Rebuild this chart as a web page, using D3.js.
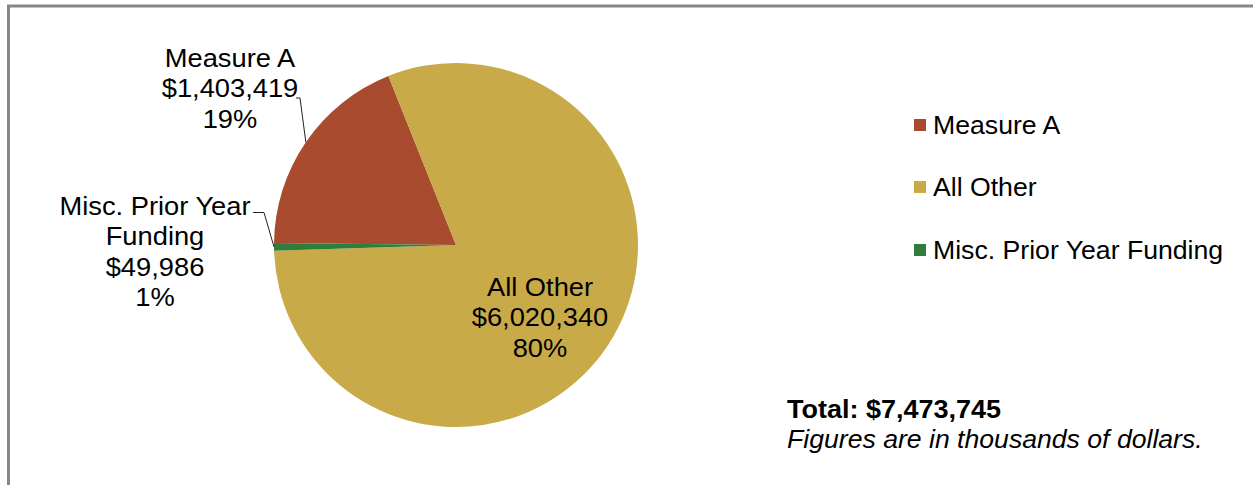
<!DOCTYPE html>
<html>
<head>
<meta charset="utf-8">
<script src="https://cdn.jsdelivr.net/npm/d3@7"></script>
<style>
  html, body { margin: 0; padding: 0; background: #fff; }
  svg { display: block; }
  text { font-family: "Liberation Sans", Arial, sans-serif; fill: #000; }
</style>
</head>
<body>
<svg id="chart" width="1253" height="485"></svg>
<script>
// Funding sources (thousands of dollars)
const categories = ["Measure A", "All Other", "Misc. Prior Year Funding"];
const values = [1403419, 6020340, 49986];
const percentLabels = ["19%", "80%", "1%"];
const colors = ["#A84B2F", "#C8AA48", "#2E7D3D"];
const totalLabel = "Total: $7,473,745";
const noteLabel = "Figures are in thousands of dollars.";

const svg = d3.select("#chart");
const W = 1253, H = 485;

// Frame around the chart area
svg.append("path")
  .attr("d", `M8.5,${H} L8.5,6 L${W},6`)
  .attr("fill", "none")
  .attr("stroke", "#878787")
  .attr("stroke-width", 3);

const cx = 456, cy = 245, r = 182;
const startDeg = -89.4;

const pie = d3.pie().sort(null).value(d => d)
  .startAngle(startDeg * Math.PI / 180)
  .endAngle((startDeg + 360) * Math.PI / 180);
const arcs = pie(values);
const arc = d3.arc().innerRadius(0).outerRadius(r);

const g = svg.append("g").attr("transform", `translate(${cx},${cy})`);
g.selectAll("path.slice")
  .data(arcs)
  .join("path")
  .attr("class", "slice")
  .attr("d", arc)
  .attr("fill", (d, i) => colors[i]);

const money = d3.format("$,");
const fs = 26, lh = 30.5;

// Text block, slightly widened horizontally
function labelBlock(lines, x, yBase) {
  const t = svg.append("g")
    .attr("transform", `translate(${x},0) scale(1.05,1)`)
    .append("text")
    .attr("text-anchor", "middle")
    .style("font-size", fs + "px");
  lines.forEach((s, k) => {
    t.append("tspan").attr("x", 0).attr("y", yBase + k * lh).text(s);
  });
}

// Data labels
labelBlock([categories[0], money(values[0]), percentLabels[0]], 230, 67);
labelBlock([categories[1], money(values[1]), percentLabels[1]], 540, 296);
labelBlock(["Misc. Prior Year", "Funding", money(values[2]), percentLabels[2]], 155, 215);

// Leader lines to slice edges at mid-angle
function edgePoint(a) {
  const m = (a.startAngle + a.endAngle) / 2;
  return [cx + r * Math.sin(m), cy - r * Math.cos(m)];
}
const pA = edgePoint(arcs[0]);
svg.append("polyline")
  .attr("points", `296,98 300,98 ${pA[0]},${pA[1]}`)
  .attr("fill", "none").attr("stroke", "#222").attr("stroke-width", 1);
const pM = edgePoint(arcs[2]);
svg.append("polyline")
  .attr("points", `253,212.5 264,212.5 ${pM[0]},${pM[1]}`)
  .attr("fill", "none").attr("stroke", "#222").attr("stroke-width", 1);

// Legend
const legend = svg.append("g");
const legendY = [125, 187, 250];
categories.forEach((c, i) => {
  legend.append("rect")
    .attr("x", 914).attr("y", legendY[i] - 6)
    .attr("width", 12).attr("height", 12)
    .attr("fill", colors[i]);
  legend.append("g")
    .attr("transform", "translate(933,0) scale(1.025,1)")
    .append("text")
    .attr("x", 0).attr("y", legendY[i] + 9)
    .style("font-size", fs + "px")
    .text(c);
});

// Total and note
svg.append("g")
  .attr("transform", "translate(787,0) scale(1.08,1)")
  .append("text")
  .attr("x", 0).attr("y", 418)
  .style("font-size", "25px").style("font-weight", "bold")
  .text(totalLabel);
svg.append("g")
  .attr("transform", "translate(787,0) scale(1.065,1)")
  .append("text")
  .attr("x", 0).attr("y", 448)
  .style("font-size", "25px").style("font-style", "italic")
  .text(noteLabel);
</script>
</body>
</html>
